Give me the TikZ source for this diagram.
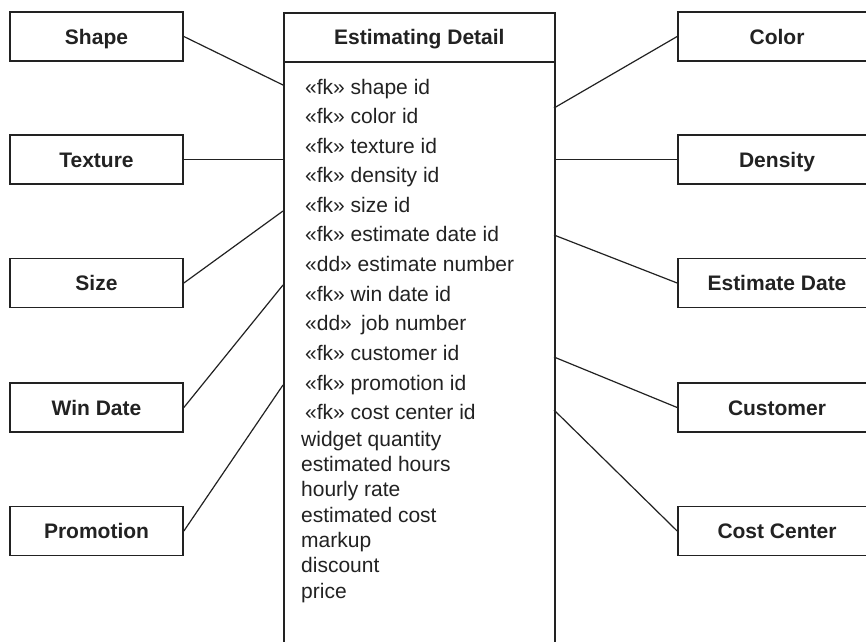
\documentclass[tikz,border=0pt]{standalone}
\usepackage{fontspec}
\setmainfont{Liberation Sans}
\definecolor{ink}{HTML}{222222}
\begin{document}
\begin{tikzpicture}[x=1pt,y=-1pt,
  ent/.style={draw=ink, line width=1.7pt, fill=white, inner sep=0pt,
    minimum height=49pt, text=ink,
    font=\fontsize{21}{21}\selectfont\bfseries, text height=15pt, text depth=0pt},
  lent/.style={ent, minimum width=173pt},
  rent/.style={ent, minimum width=198pt},
  conn/.style={draw=ink, line width=1.2pt},
  attr/.style={anchor=base west, inner sep=0pt, text=ink,
    font=\fontsize{21}{21}\selectfont}]
\clip (0,0) rectangle (866,641);
\fill[white] (0,0) rectangle (866,641);
% central entity
\node[draw=ink, line width=1.7pt, inner sep=0pt, minimum width=271pt, minimum height=640pt, anchor=north west] (body) at (283,61) {};
\node[ent, minimum width=271pt, anchor=north west] (hdr) at (283,12) {Estimating Detail};
% attributes
\node[attr] (a1) at (305,94.3) {«fk» shape id};
\node[attr] (a2) at (305,123.7) {«fk» color id};
\node[attr] (a3) at (305,153.2) {«fk» texture id};
\node[attr] (a4) at (305,182.6) {«fk» density id};
\node[attr] (a5) at (305,212.0) {«fk» size id};
\node[attr] (a6) at (305,241.6) {«fk» estimate date id};
\node[attr] (a7) at (305,271.3) {«dd» estimate number};
\node[attr] (a8) at (305,301.0) {«fk» win date id};
\node[attr] (a9) at (305,330.6) {«dd» \,job number};
\node[attr] (a10) at (305,360.4) {«fk» customer id};
\node[attr] (a11) at (305,390.1) {«fk» promotion id};
\node[attr] (a12) at (305,419.6) {«fk» cost center id};
\node[attr] (a13) at (301,446.2) {widget quantity};
\node[attr] (a14) at (301,471.5) {estimated hours};
\node[attr] (a15) at (301,496.8) {hourly rate};
\node[attr] (a16) at (301,522.1) {estimated cost};
\node[attr] (a17) at (301,547.4) {markup};
\node[attr] (a18) at (301,572.7) {discount};
\node[attr] (a19) at (301,598.0) {price};
% left entities
\node[lent] (shape) at (96.5,36.5) {Shape};
\node[lent] (texture) at (96.5,159.5) {Texture};
\node[lent] (size) at (96.5,283) {Size};
\node[lent] (win) at (96.5,407.5) {Win Date};
\node[lent] (promo) at (96.5,531) {Promotion};
% right entities
\node[rent] (color) at (777,36.5) {Color};
\node[rent] (density) at (777,159.5) {Density};
\node[rent] (edate) at (777,283) {Estimate Date};
\node[rent] (cust) at (777,407.5) {Customer};
\node[rent] (cost) at (777,531) {Cost Center};
% attachment points on the central entity
\coordinate (pShape) at (283,85);
\coordinate (pTexture) at (283,159.5);
\coordinate (pSize) at (283,211);
\coordinate (pWin) at (283,285);
\coordinate (pPromo) at (283,385);
\coordinate (pColor) at (554,108);
\coordinate (pDensity) at (554,159.5);
\coordinate (pEdate) at (554,235);
\coordinate (pCust) at (554,357);
\coordinate (pCost) at (554,410);
% connectors
\draw[conn] (shape.east) -- (pShape);
\draw[conn] (texture.east) -- (pTexture);
\draw[conn] (size.east) -- (pSize);
\draw[conn] (win.east) -- (pWin);
\draw[conn] (promo.east) -- (pPromo);
\draw[conn] (color.west) -- (pColor);
\draw[conn] (density.west) -- (pDensity);
\draw[conn] (edate.west) -- (pEdate);
\draw[conn] (cust.west) -- (pCust);
\draw[conn] (cost.west) -- (pCost);
\end{tikzpicture}
\end{document}
